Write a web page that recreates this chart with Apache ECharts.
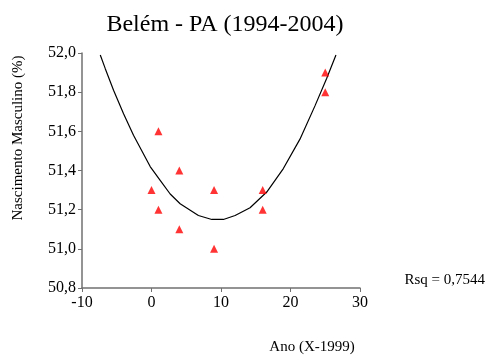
<!DOCTYPE html>
<html>
<head>
<meta charset="utf-8">
<script src="https://cdn.jsdelivr.net/npm/echarts@6/dist/echarts.min.js"></script>
<style>html,body{margin:0;padding:0;background:#fff}#c{width:487px;height:356px}</style>
</head>
<body>
<div id="c"></div>
<script>
// Observed data on axis "Ano (X-1999)"
var obsX = [0, 1, 1, 4, 4, 9, 9, 16, 16, 25, 25];
var obsY = [51.3, 51.6, 51.2, 51.4, 51.1, 51.3, 51.0, 51.3, 51.2, 51.9, 51.8];
// Fitted curve, points
var fitX = [-7.37, -6.65, -5.46, -4.02, -2.59, -1.38, -0.19, 1.25, 2.69, 4.12, 6.75, 8.68, 10.34, 12.03, 14.18, 16.58, 18.97, 21.36, 23.52, 25.2, 26.54];
var fitY = [51.99, 51.92, 51.81, 51.69, 51.58, 51.50, 51.42, 51.35, 51.28, 51.23, 51.17, 51.15, 51.15, 51.17, 51.21, 51.29, 51.41, 51.56, 51.73, 51.87, 51.99];
var xTicks = [-10, 0, 10, 20, 30];
var titleText = 'Belém - PA (1994-2004)';
var xName = 'Ano (X-1999)';
var yName = 'Nascimento Masculino (%)';
var rsqText = 'Rsq = 0,7544';

var serif = '"Liberation Serif", "DejaVu Serif", serif';
var chart = echarts.init(document.getElementById('c'));
chart.setOption({
  animation: false,
  backgroundColor: '#fff',
  title: {
    text: titleText, left: 220, top: 8, textAlign: 'center',
    textStyle: { fontFamily: serif, fontSize: 24, fontWeight: 'normal', color: '#000' }
  },
  grid: { left: 82, right: 127, top: 53, bottom: 68 },
  xAxis: {
    type: 'value', min: -10, max: 30, interval: 10,
    axisLine: { show: true, onZero: false, lineStyle: { color: '#707070', width: 1.5 } },
    axisTick: { show: true, length: 4, lineStyle: { color: '#707070' } },
    splitLine: { show: false },
    axisLabel: { fontFamily: serif, fontSize: 16, color: '#000', margin: 7,
      formatter: function (v) { return xTicks.indexOf(v) >= 0 ? String(v) : ''; } }
  },
  yAxis: {
    type: 'value', min: 50.8, max: 52.0, interval: 0.2,
    axisLine: { show: true, onZero: false, lineStyle: { color: '#707070', width: 1.5 } },
    axisTick: { show: true, length: 4, lineStyle: { color: '#707070' } },
    splitLine: { show: false },
    axisLabel: { fontFamily: serif, fontSize: 16, color: '#000', margin: 6,
      formatter: function (v) { return v.toFixed(1).replace('.', ','); } }
  },
  graphic: [
    { type: 'text', x: 18, y: 138, rotation: Math.PI / 2, z: 10,
      style: { text: yName, fontFamily: serif, fontSize: 15, fill: '#000', align: 'center', verticalAlign: 'middle' } },
    { type: 'text', x: 312, y: 347, z: 10,
      style: { text: xName, fontFamily: serif, fontSize: 15, fill: '#000', align: 'center', verticalAlign: 'middle' } },
    { type: 'text', x: 485, y: 280, z: 10,
      style: { text: rsqText, fontFamily: serif, fontSize: 15, fill: '#000', align: 'right', verticalAlign: 'middle' } }
  ],
  series: [
    { type: 'line', data: fitX.map(function (x, i) { return [x, fitY[i]]; }),
      smooth: false, showSymbol: false, symbol: 'none',
      lineStyle: { color: '#000', width: 1.2 }, z: 2 },
    { type: 'scatter', data: obsX.map(function (x, i) { return [x, obsY[i]]; }),
      symbol: 'triangle', symbolSize: 8, itemStyle: { color: '#ff0000' }, z: 3 }
  ]
});
</script>
</body>
</html>
